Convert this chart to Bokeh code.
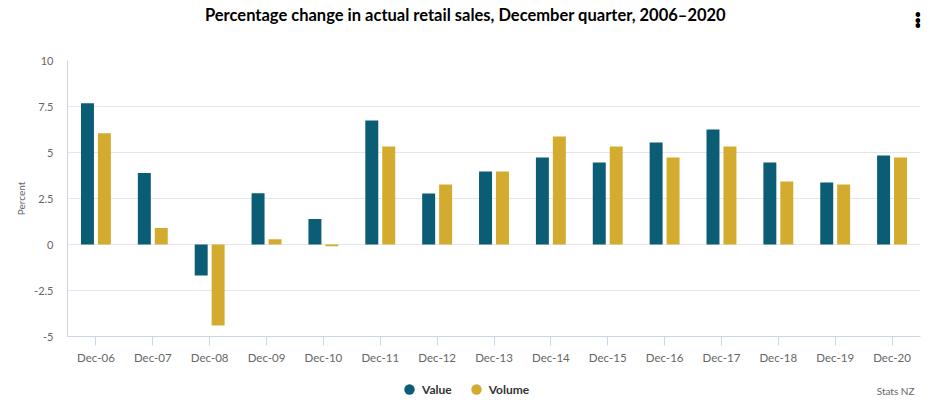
from bokeh.plotting import figure
from bokeh.layouts import column
from bokeh.models import (ColumnDataSource, Range1d, FixedTicker, Label, Legend, LegendItem)
from bokeh.transform import dodge
from bokeh.embed import file_html
from bokeh.resources import INLINE

categories = ["Dec-06", "Dec-07", "Dec-08", "Dec-09", "Dec-10", "Dec-11", "Dec-12", "Dec-13",
              "Dec-14", "Dec-15", "Dec-16", "Dec-17", "Dec-18", "Dec-19", "Dec-20"]
value = [7.68, 3.88, -1.68, 2.79, 1.38, 6.74, 2.77, 3.97, 4.73, 4.46, 5.54, 6.25, 4.46, 3.37, 4.84]
volume = [6.05, 0.89, -4.40, 0.29, -0.10, 5.33, 3.26, 3.97, 5.87, 5.33, 4.73, 5.33, 3.42, 3.26, 4.73]
y_ticks = [-5, -2.5, 0, 2.5, 5, 7.5, 10]
y_tick_labels = ["-5", "-2.5", "0", "2.5", "5", "7.5", "10"]
series_names = ["Value", "Volume"]

TEAL = "#0b5c75"
GOLD = "#d3ab2f"
FONT = "Lato"
W = 922
NAN = float("nan")


def blank(height):
    f = figure(width=W, height=height, x_range=Range1d(0, 1), y_range=Range1d(0, 1),
               output_backend="svg", toolbar_location=None,
               x_axis_location=None, y_axis_location=None,
               min_border_left=67, min_border_right=2, min_border_top=0, min_border_bottom=0)
    f.outline_line_color = None
    for g in f.grid:
        g.visible = False
    return f


# ---------- header ----------
header = blank(52)
header.add_layout(Label(x=398, y=38, x_units="screen", y_units="screen",
                        text="Percentage change in actual retail sales, December quarter, 2006\u20132020",
                        text_align="center", text_baseline="middle", text_font=FONT,
                        text_font_size="16.5px", text_font_style="bold", text_color="#000000"))
# menu icon: three stacked dots
for dot_y in (39, 33.5, 28):
    header.add_layout(Label(x=850.5, y=dot_y, x_units="screen", y_units="screen", text="\u2022",
                            text_align="center", text_baseline="middle", text_font=FONT,
                            text_font_size="11px", text_font_style="bold", text_color="#000000"))

# ---------- main chart ----------
source = ColumnDataSource(dict(cats=categories, value=value, volume=volume))

p = figure(x_range=categories, y_range=Range1d(-5, 10), width=W, height=314,
           output_backend="svg", toolbar_location=None,
           min_border_left=67, min_border_right=2, min_border_top=8, min_border_bottom=30)
p.outline_line_color = None

p.vbar(x=dodge("cats", -0.149, range=p.x_range), top="value", bottom=0, width=0.228,
       source=source, fill_color=TEAL, line_color=None)
p.vbar(x=dodge("cats", 0.149, range=p.x_range), top="volume", bottom=0, width=0.228,
       source=source, fill_color=GOLD, line_color=None)

p.xgrid.grid_line_color = None
p.ygrid.grid_line_color = "#e6e6e6"
p.ygrid.grid_line_width = 1

p.yaxis.ticker = FixedTicker(ticks=y_ticks)
p.yaxis.major_label_overrides = {t: l for t, l in zip(y_ticks, y_tick_labels)}
p.yaxis.axis_line_color = "#ccd6eb"
p.yaxis.major_tick_line_color = None
p.yaxis.minor_tick_line_color = None
p.yaxis.major_tick_out = 0
p.yaxis.major_tick_in = 0
p.yaxis.major_label_standoff = 14
p.yaxis.major_label_text_font = FONT
p.yaxis.major_label_text_font_size = "11px"
p.yaxis.major_label_text_color = "#666666"
p.yaxis.axis_label = "Percent"
p.yaxis.axis_label_text_font = FONT
p.yaxis.axis_label_text_font_size = "10px"
p.yaxis.axis_label_text_font_style = "normal"
p.yaxis.axis_label_text_color = "#666666"
p.yaxis.axis_label_standoff = 4

p.xaxis.axis_line_color = "#ccd6eb"
p.xaxis.major_tick_line_color = "#ccd6eb"
p.xaxis.major_tick_out = 9
p.xaxis.major_tick_in = 0
p.xaxis.major_label_standoff = 5
p.xaxis.major_label_text_font = FONT
p.xaxis.major_label_text_font_size = "11.5px"
p.xaxis.major_label_text_color = "#666666"

# ---------- footer ----------
footer = blank(34)
c1 = footer.scatter(x=[NAN], y=[NAN], marker="circle", size=11, fill_color=TEAL, line_color=None)
c2 = footer.scatter(x=[NAN], y=[NAN], marker="circle", size=11, fill_color=GOLD, line_color=None)
legend = Legend(items=[LegendItem(label=series_names[0], renderers=[c1]),
                       LegendItem(label=series_names[1], renderers=[c2])],
                location=(329, -2), orientation="horizontal",
                padding=0, margin=0, spacing=11, label_standoff=-3,
                glyph_width=26, glyph_height=26, label_height=11,
                label_text_font=FONT, label_text_font_size="12px",
                label_text_font_style="bold", label_text_color="#333333",
                border_line_color=None, background_fill_alpha=0)
footer.add_layout(legend, "center")
footer.add_layout(Label(x=847, y=10, x_units="screen", y_units="screen", text="Stats NZ",
                        text_align="right", text_baseline="middle", text_font=FONT,
                        text_font_size="10px", text_color="#666666"))

layout = column(header, p, footer, spacing=0)
open("out.html", "w").write(file_html(layout, INLINE))
